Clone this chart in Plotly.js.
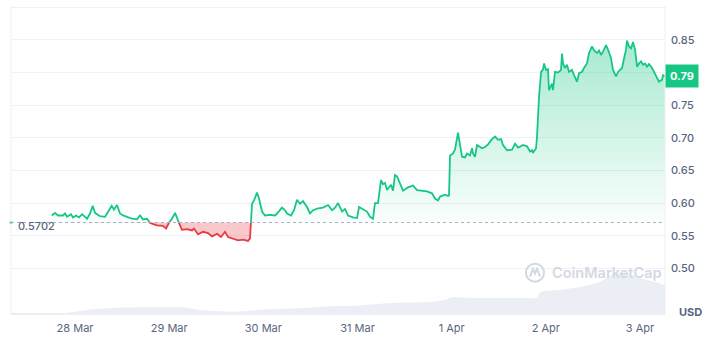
<!DOCTYPE html>
<html>
<head>
<meta charset="utf-8">
<script src="https://cdn.plot.ly/plotly-3.0.1.min.js"></script>
<style>
  html, body { margin: 0; padding: 0; background: #ffffff; }
  #chart { width: 719px; height: 354px; }
</style>
</head>
<body>
<div id="chart"></div>
<script>
// ---------- DATA ----------
const baseline = 0.5702;
const lastLabel = "0.79";

const priceTimes = [
  "2024-03-27 18:04","2024-03-27 18:54","2024-03-27 19:40","2024-03-27 20:56","2024-03-27 21:27",
  "2024-03-27 21:58","2024-03-27 22:59","2024-03-27 23:29","2024-03-28 00:15","2024-03-28 01:01",
  "2024-03-28 01:47","2024-03-28 03:04","2024-03-28 03:49","2024-03-28 04:31","2024-03-28 05:06",
  "2024-03-28 06:22","2024-03-28 07:39","2024-03-28 08:25","2024-03-28 09:21","2024-03-28 09:56",
  "2024-03-28 10:42","2024-03-28 11:28","2024-03-28 12:14","2024-03-28 13:15","2024-03-28 14:32",
  "2024-03-28 15:48","2024-03-28 16:34","2024-03-28 17:20","2024-03-28 18:21","2024-03-28 19:07",
  "2024-03-28 20:54","2024-03-28 22:26","2024-03-28 23:12","2024-03-28 23:42","2024-03-29 00:43",
  "2024-03-29 01:30","2024-03-29 02:15","2024-03-29 03:16","2024-03-29 04:33","2024-03-29 05:49",
  "2024-03-29 06:20","2024-03-29 07:21","2024-03-29 08:37","2024-03-29 09:54","2024-03-29 10:55",
  "2024-03-29 12:12","2024-03-29 13:13","2024-03-29 14:14","2024-03-29 15:00","2024-03-29 16:16",
  "2024-03-29 17:33","2024-03-29 18:49","2024-03-29 20:06","2024-03-29 20:36","2024-03-29 21:07",
  "2024-03-29 21:37","2024-03-29 22:23","2024-03-29 22:54","2024-03-29 23:40","2024-03-30 00:25",
  "2024-03-30 01:42","2024-03-30 02:58","2024-03-30 03:29","2024-03-30 04:45","2024-03-30 05:31",
  "2024-03-30 06:02","2024-03-30 07:03","2024-03-30 07:49","2024-03-30 08:35","2024-03-30 09:21",
  "2024-03-30 10:07","2024-03-30 11:08","2024-03-30 11:54","2024-03-30 12:40","2024-03-30 13:56",
  "2024-03-30 15:13","2024-03-30 16:29","2024-03-30 17:31","2024-03-30 18:16","2024-03-30 19:02",
  "2024-03-30 20:04","2024-03-30 20:49","2024-03-30 21:35","2024-03-30 22:52","2024-03-30 23:53",
  "2024-03-31 00:23","2024-03-31 01:24","2024-03-31 02:25","2024-03-31 03:11","2024-03-31 03:57",
  "2024-03-31 04:27","2024-03-31 05:13","2024-03-31 05:59","2024-03-31 06:30","2024-03-31 07:00",
  "2024-03-31 07:31","2024-03-31 08:32","2024-03-31 09:03","2024-03-31 09:33","2024-03-31 10:04",
  "2024-03-31 10:50","2024-03-31 11:36","2024-03-31 12:52","2024-03-31 14:09","2024-03-31 15:10",
  "2024-03-31 16:26","2024-03-31 17:43","2024-03-31 18:59","2024-03-31 19:45","2024-03-31 20:31",
  "2024-03-31 21:02","2024-03-31 22:18","2024-03-31 23:04","2024-03-31 23:19","2024-03-31 23:35",
  "2024-04-01 00:20","2024-04-01 00:51","2024-04-01 01:37","2024-04-01 02:07","2024-04-01 02:38",
  "2024-04-01 03:24","2024-04-01 03:54","2024-04-01 04:40","2024-04-01 05:11","2024-04-01 05:26",
  "2024-04-01 05:57","2024-04-01 06:27","2024-04-01 07:44","2024-04-01 08:30","2024-04-01 09:16",
  "2024-04-01 10:17","2024-04-01 11:03","2024-04-01 11:49","2024-04-01 12:35","2024-04-01 13:05",
  "2024-04-01 14:06","2024-04-01 15:23","2024-04-01 16:09","2024-04-01 16:55","2024-04-01 18:11",
  "2024-04-01 19:12","2024-04-01 19:58","2024-04-01 20:29","2024-04-01 20:44","2024-04-01 21:30",
  "2024-04-01 21:45","2024-04-01 22:16","2024-04-01 22:47","2024-04-01 23:17","2024-04-01 23:33",
  "2024-04-02 00:02","2024-04-02 00:33","2024-04-02 00:48","2024-04-02 01:34","2024-04-02 01:49",
  "2024-04-02 02:20","2024-04-02 03:06","2024-04-02 03:52","2024-04-02 04:07","2024-04-02 04:22",
  "2024-04-02 04:53","2024-04-02 05:23","2024-04-02 05:54","2024-04-02 06:40","2024-04-02 07:11",
  "2024-04-02 07:56","2024-04-02 08:27","2024-04-02 09:13","2024-04-02 09:44","2024-04-02 10:29",
  "2024-04-02 11:00","2024-04-02 11:46","2024-04-02 12:17","2024-04-02 13:02","2024-04-02 13:33",
  "2024-04-02 14:04","2024-04-02 14:34","2024-04-02 15:20","2024-04-02 15:51","2024-04-02 16:37",
  "2024-04-02 17:07","2024-04-02 17:53","2024-04-02 18:24","2024-04-02 19:25","2024-04-02 19:56",
  "2024-04-02 20:26","2024-04-02 20:41","2024-04-02 21:12","2024-04-02 21:43","2024-04-02 22:13",
  "2024-04-02 22:44","2024-04-02 23:15","2024-04-02 23:45","2024-04-03 00:15","2024-04-03 00:46",
  "2024-04-03 01:16","2024-04-03 01:47","2024-04-03 02:17","2024-04-03 03:04","2024-04-03 03:19",
  "2024-04-03 04:05","2024-04-03 04:50","2024-04-03 05:37","2024-04-03 05:52","2024-04-03 06:22"
];

const prices = [
  0.581,0.585,0.581,0.581,0.584,
  0.579,0.583,0.578,0.581,0.578,
  0.583,0.576,0.584,0.596,0.585,
  0.580,0.579,0.586,0.596,0.590,
  0.597,0.584,0.581,0.579,0.576,
  0.575,0.581,0.575,0.576,0.5696,
  0.566,0.565,0.561,0.568,0.576,
  0.585,0.573,0.559,0.560,0.558,
  0.561,0.552,0.556,0.554,0.549,
  0.553,0.548,0.556,0.548,0.546,
  0.543,0.544,0.542,0.546,0.599,
  0.604,0.616,0.607,0.587,0.581,
  0.582,0.581,0.584,0.593,0.589,
  0.584,0.581,0.589,0.605,0.599,
  0.603,0.594,0.584,0.589,0.592,
  0.593,0.597,0.589,0.593,0.600,
  0.587,0.591,0.581,0.578,0.577,
  0.594,0.590,0.587,0.579,0.576,
  0.600,0.600,0.635,0.629,0.631,
  0.620,0.628,0.619,0.643,0.641,
  0.630,0.619,0.624,0.627,0.620,
  0.619,0.618,0.615,0.607,0.604,
  0.610,0.613,0.611,0.612,0.673,
  0.676,0.682,0.708,0.689,0.671,
  0.670,0.676,0.673,0.684,0.676,
  0.671,0.689,0.684,0.686,0.690,
  0.698,0.702,0.697,0.698,0.689,
  0.681,0.682,0.691,0.685,0.689,
  0.687,0.679,0.681,0.677,0.684,
  0.702,0.763,0.801,0.805,0.814,
  0.804,0.805,0.773,0.783,0.773,
  0.801,0.800,0.804,0.829,0.814,
  0.807,0.812,0.801,0.804,0.796,
  0.786,0.799,0.801,0.807,0.814,
  0.830,0.840,0.834,0.830,0.834,
  0.827,0.832,0.842,0.835,0.822,
  0.804,0.794,0.801,0.807,0.822,
  0.835,0.849,0.840,0.837,0.847,
  0.835,0.809,0.814,0.817,0.812,
  0.814,0.809,0.813,0.807,0.804,
  0.794,0.786,0.789,0.796,0.794
];

const volumeTimes = [
  "2024-03-27 07:41","2024-03-27 21:58","2024-03-28 04:35","2024-03-28 10:42","2024-03-28 19:07",
  "2024-03-29 03:32","2024-03-29 07:51","2024-03-29 16:16","2024-03-29 20:36","2024-03-30 00:56",
  "2024-03-30 09:21","2024-03-30 17:46","2024-03-30 22:06","2024-03-31 09:03","2024-03-31 18:29",
  "2024-03-31 22:18","2024-04-01 00:20","2024-04-01 04:40","2024-04-01 12:19","2024-04-01 19:58",
  "2024-04-01 21:45","2024-04-01 22:31","2024-04-02 03:36","2024-04-02 08:42","2024-04-02 13:48",
  "2024-04-02 17:07","2024-04-02 20:41","2024-04-02 23:59","2024-04-03 03:49","2024-04-03 06:22"
];
const volumes = [
  2.3,2.3,5.7,7.3,7.7,
  7.7,5.0,3.3,4.3,5.7,
  6.7,9.0,9.0,12,13,
  15,18,17,17,17,
  17,23,25,28,33,
  41,42,37,33,30
];

const dayTicks = ["2024-03-28","2024-03-29","2024-03-30","2024-03-31","2024-04-01","2024-04-02","2024-04-03"];
const dayLabels = ["28 Mar","29 Mar","30 Mar","31 Mar","1 Apr","2 Apr","3 Apr"];
const priceTicks = [0.50,0.55,0.60,0.65,0.70,0.75,0.80,0.85,0.90];
// 0.80 is hidden behind the current-price badge, 0.90 is the top edge
const priceTickText = ["0.50","0.55","0.60","0.65","0.70","0.75","","0.85",""];

// ---------- HELPERS ----------
function toMs(s) {
  const parts = s.split(' ');
  const d = parts[0].split('-').map(Number);
  const t = (parts[1] || "00:00").split(':').map(Number);
  return Date.UTC(d[0], d[1]-1, d[2], t[0], t[1]);
}
const GREEN = '#16c784', RED = '#ea3943', GRAY = '#58667e';

const px = priceTimes.map(toMs);
const mx = [], my = [];
for (let i = 0; i < px.length; i++) {
  mx.push(px[i]); my.push(prices[i]);
  if (i < px.length - 1) {
    const a = prices[i] - baseline, b = prices[i+1] - baseline;
    if ((a > 0 && b < 0) || (a < 0 && b > 0)) {
      const f = a / (a - b);
      mx.push(px[i] + f * (px[i+1] - px[i])); my.push(baseline);
    }
  }
}
const eps = 1e-9;
const greenY = my.map(v => v >= baseline - eps ? v : null);
const redY = my.map(v => v <= baseline + eps ? v : null);
const upY = my.map(v => Math.max(v, baseline));
const loY = my.map(v => Math.min(v, baseline));
const baseY = my.map(() => baseline);

const xStart = toMs(volumeTimes[0]);
const xEnd = px[px.length - 1];

const traces = [
  { x: volumeTimes.map(toMs), y: volumes, yaxis: 'y2', type: 'scatter', mode: 'lines',
    line: { width: 0, shape: 'spline', smoothing: 0.6 }, fill: 'tozeroy', fillcolor: 'rgba(222,227,236,0.6)',
    hoverinfo: 'skip', showlegend: false },
  { x: mx, y: baseY, mode: 'lines', line: { width: 0 }, hoverinfo: 'skip', showlegend: false },
  { x: mx, y: upY, mode: 'lines', line: { width: 0 }, fill: 'tonexty',
    fillgradient: { type: 'vertical', start: baseline, stop: 0.85,
      colorscale: [[0, 'rgba(22,199,132,0.02)'], [1, 'rgba(22,199,132,0.38)']] },
    hoverinfo: 'skip', showlegend: false },
  { x: mx, y: baseY, mode: 'lines', line: { width: 0 }, hoverinfo: 'skip', showlegend: false },
  { x: mx, y: loY, mode: 'lines', line: { width: 0 }, fill: 'tonexty', fillcolor: 'rgba(234,57,67,0.28)',
    hoverinfo: 'skip', showlegend: false },
  { x: mx, y: greenY, mode: 'lines', line: { color: GREEN, width: 1.8 }, connectgaps: false, showlegend: false },
  { x: mx, y: redY, mode: 'lines', line: { color: RED, width: 1.8 }, connectgaps: false, showlegend: false },
  { x: [xStart], y: [baseline], mode: 'markers', marker: { color: GREEN, size: 3 }, cliponaxis: false,
    hoverinfo: 'skip', showlegend: false }
];

const layout = {
  width: 719, height: 354,
  margin: { l: 11, r: 54, t: 6, b: 39 },
  paper_bgcolor: '#ffffff', plot_bgcolor: '#ffffff',
  font: { family: 'Inter, "Noto Sans", sans-serif', color: GRAY, size: 11 },
  showlegend: false,
  xaxis: {
    type: 'date', range: [xStart, xEnd],
    tickvals: dayTicks.map(d => toMs(d + " 00:00")), ticktext: dayLabels,
    showgrid: false, zeroline: false, showline: false, ticks: '',
    tickfont: { size: 11, color: GRAY }, ticklabelstandoff: 5
  },
  yaxis: {
    side: 'right', range: [0.4285, 0.902],
    tickvals: priceTicks, ticktext: priceTickText,
    showgrid: true, gridcolor: '#eff2f5', gridwidth: 1, zeroline: false, showline: false, ticks: '',
    tickfont: { size: 11, color: GRAY, weight: 500 }, ticklabelstandoff: 5
  },
  yaxis2: { overlaying: 'y', range: [0, 309], visible: false, fixedrange: true },
  shapes: [
    { type: 'line', xref: 'paper', yref: 'paper', x0: 0, x1: 0, y0: 0, y1: 1, line: { color: '#eceff3', width: 1 } },
    { type: 'line', xref: 'paper', yref: 'paper', x0: 1, x1: 1, y0: 0, y1: 1, line: { color: '#eceff3', width: 1 } },
    { type: 'line', xref: 'paper', yref: 'y', x0: 0, x1: 1, y0: baseline, y1: baseline,
      line: { color: '#a6b0c3', width: 1, dash: 'dot' }, layer: 'above' },
    { type: 'circle', xref: 'paper', yref: 'paper', xsizemode: 'pixel', ysizemode: 'pixel',
      xanchor: 0.8012, yanchor: 0.137, x0: -9, x1: 9, y0: -9, y1: 9,
      line: { color: '#d3d9e3', width: 2 } },
    { type: 'path', xref: 'paper', yref: 'paper', xsizemode: 'pixel', ysizemode: 'pixel',
      xanchor: 0.8012, yanchor: 0.137,
      path: 'M -5,-4 L -2,4 L 0,-1 L 2,4 L 5,-4',
      line: { color: '#d3d9e3', width: 2 } }
  ],
  annotations: [
    { xref: 'paper', yref: 'y', x: 0, y: baseline, xanchor: 'left', yanchor: 'middle',
      xshift: 5, yshift: -3, text: '0.5702', showarrow: false,
      font: { size: 11, color: GRAY, weight: 500 } },
    { xref: 'paper', yref: 'y', x: 1, y: prices[prices.length - 1], xanchor: 'left', yanchor: 'middle',
      text: '<b>' + lastLabel + '</b>', showarrow: false, bgcolor: GREEN, borderpad: 4,
      font: { size: 11, color: '#ffffff' } },
    { xref: 'paper', yref: 'paper', x: 1, y: 0, xanchor: 'left', yanchor: 'middle',
      xshift: 12, yshift: 3, text: '<b>USD</b>', showarrow: false,
      font: { size: 11, color: GRAY } },
    { xref: 'paper', yref: 'paper', x: 0.8012, y: 0.137, xanchor: 'left', yanchor: 'middle',
      xshift: 15, text: 'CoinMarketCap', showarrow: false,
      font: { size: 14.5, color: '#d3d9e3', weight: 600 } }
  ]
};

Plotly.newPlot('chart', traces, layout, { staticPlot: true, displayModeBar: false });
</script>
</body>
</html>
